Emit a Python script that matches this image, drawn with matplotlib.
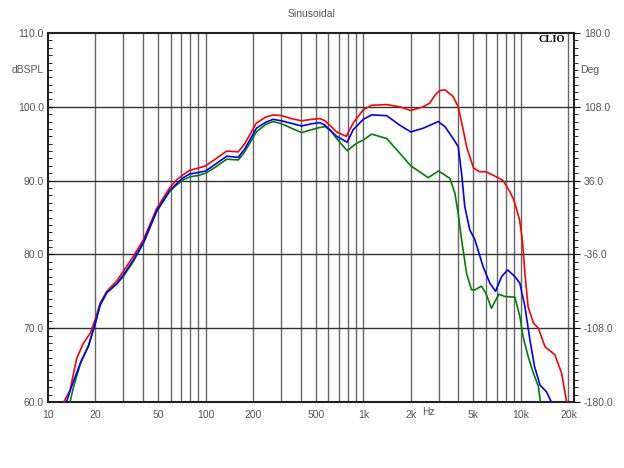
import matplotlib
matplotlib.use("Agg")
import matplotlib.pyplot as plt
from matplotlib.ticker import FixedLocator, NullLocator, MultipleLocator

# ----------------------------------------------------------------------
# Data (Hz, dBSPL)
# ----------------------------------------------------------------------
red_f = [12.0, 12.6, 13.8, 15.2, 16.7, 18.5, 20, 21.4, 23.6, 27.3, 30, 34.7,
         40.3, 48.9, 59.4, 65.5, 72, 79.4, 90, 100, 115, 136, 161, 177, 210,
         240, 268, 303, 350, 406, 470, 531, 571, 620, 677, 780, 863, 1000,
         1130, 1407, 1706, 2000, 2400, 2640, 2850, 3050, 3290, 3713, 4000,
         4300, 4520, 5000, 5480, 6000, 7000, 7710, 8500, 9000, 9800, 10200,
         10600, 11100, 12000, 12900, 14200, 16400, 18100, 19500, 19800]
red_db = [59.0, 60.0, 61.6, 65.9, 67.9, 69.3, 71.3, 73.4, 75.0, 76.4, 77.7, 79.7,
          82.0, 86.2, 89.1, 90.1, 90.8, 91.4, 91.7, 92.0, 92.9, 94.0, 93.9, 95.0, 97.8,
          98.6, 98.9, 98.8, 98.4, 98.1, 98.3, 98.4, 98.1, 97.4, 96.6, 96.0, 97.8, 99.6,
          100.2, 100.3, 100.0, 99.5, 100.0, 100.5, 101.6, 102.2, 102.3, 101.4, 100.0,
          96.9, 94.6, 91.7, 91.2, 91.2, 90.5, 90.0, 88.5, 87.4, 84.7, 82.0,
          77.4, 72.9, 70.7, 70.0, 67.5, 66.4, 63.9, 60.0, 59.0]

blue_f = [12.8, 13.1, 14.1, 16.0, 18.0, 20, 21.4, 23.6, 27.3, 30, 34.7, 40.3,
          48.9, 59.4, 65.5, 72, 79.4, 90, 100, 115, 136, 161, 177, 210, 240,
          268, 303, 406, 470, 531, 571, 677, 790, 863, 1000, 1130, 1407, 1706,
          2000, 2400, 2987, 3300, 3713, 4000, 4200, 4400, 4740, 5100, 5760,
          6350, 6900, 7540, 8230, 9150, 9840, 10600, 11400, 12200, 13200,
          14500, 15600, 16000]
blue_db = [59.0, 60.0, 62.1, 65.2, 67.5, 70.7, 73.1, 74.8, 76.0, 77.2, 79.2, 81.6,
           85.9, 88.7, 89.6, 90.4, 90.9, 91.1, 91.3, 92.2, 93.3, 93.15, 94.3, 97.1, 97.9,
           98.3, 98.1, 97.4, 97.7, 97.85, 97.5, 96.0, 95.2, 96.9, 98.3, 98.9, 98.8, 97.5,
           96.6, 97.1, 98.0, 97.3, 95.7, 94.6, 91.0, 86.5, 83.3, 82.0, 78.3,
           76.1, 75.0, 77.0, 77.9, 77.0, 76.1, 72.9, 68.4, 64.8, 62.3,
           61.4, 60.0, 59.0]

green_f = [13.3, 13.8, 14.5, 16.2, 18.2, 20, 21.4, 23.6, 27.3, 30, 34.7, 40.3,
           48.9, 59.4, 65.5, 72, 79.4, 90, 100, 115, 136, 161, 177, 210, 240,
           268, 303, 406, 470, 531, 571, 620, 677, 790, 906, 1000, 1130, 1407,
           1706, 2000, 2580, 3000, 3540, 3810, 4000, 4200, 4520, 4860, 5100,
           5620, 6000, 6500, 6830, 7240, 7900, 9150, 9840, 10300, 11100, 12000,
           12900, 13300, 13500]
green_db = [59.0, 60.0, 62.0, 65.5, 67.8, 70.9, 73.2, 74.9, 76.0, 77.0, 79.0, 81.5,
            85.8, 88.6, 89.4, 90.1, 90.5, 90.7, 91.0, 91.8, 92.9, 92.8, 93.9, 96.6, 97.6,
            98.0, 97.7, 96.5, 96.9, 97.2, 97.3, 96.8, 95.7, 94.05, 95.05, 95.5, 96.3, 95.7,
            93.7, 92.0, 90.4, 91.3, 90.3, 88.3, 85.5, 82.0, 77.4, 75.2, 75.2,
            75.7, 74.7, 72.7, 73.6, 74.6, 74.3, 74.2, 71.6, 68.9, 66.2, 63.9,
            62.1, 60.0, 59.0]

x_ticks = [10, 20, 50, 100, 200, 500, 1000, 2000, 5000, 10000, 20000]
x_labels = ["10", "20", "50", "100", "200", "500", "1k", "2k", "5k", "10k", "20k"]
db_ticks = [60, 70, 80, 90, 100, 110]
deg_ticks = [-180, -108, -36, 36, 108, 180]

# ----------------------------------------------------------------------
# Plot
# ----------------------------------------------------------------------
plt.rcParams["font.family"] = ["Liberation Sans", "DejaVu Sans"]
label_col = "#555555"

fig = plt.figure(figsize=(6.24, 4.68), dpi=100)
ax = fig.add_axes([48 / 624, 66 / 468, 526 / 624, 369 / 468])

# vertical log grid (20..90, 200..900, ...)
grid_f = [m * 10 ** d for d in range(1, 5) for m in range(1, 10)]
for f in grid_f:
    if 10 < f <= 20000:
        ax.axvline(f, color="#666666", lw=1.0, zorder=1)
for y in db_ticks[1:-1]:
    ax.axhline(y, color="#333333", lw=1.0, zorder=1)

ax.plot(red_f, red_db, color="#ff0000", lw=1.2, zorder=3)
ax.plot(green_f, green_db, color="#008000", lw=1.2, zorder=3)
ax.plot(blue_f, blue_db, color="#0000ff", lw=1.2, zorder=4)

ax.set_xscale("log")
ax.set_xlim(10, 21700)
ax.set_ylim(60, 110)

ax.xaxis.set_major_locator(FixedLocator(x_ticks))
ax.xaxis.set_minor_locator(NullLocator())
ax.set_xticklabels(x_labels)
ax.tick_params(axis="x", length=0, pad=6, labelsize=7.5, labelcolor=label_col)

ax.set_yticks(db_ticks)
ax.set_yticklabels([f"{v:.1f}" for v in db_ticks])
ax.yaxis.set_minor_locator(MultipleLocator(1))
ax.tick_params(axis="y", which="major", direction="in", length=4, width=0.8,
               pad=3, labelsize=7.5, labelcolor=label_col)
ax.tick_params(axis="y", which="minor", direction="in", length=3, width=0.6)

for s in ax.spines.values():
    s.set_linewidth(1.5)
    s.set_color("#222222")

ax2 = ax.twinx()
ax2.set_ylim(-180, 180)
ax2.set_yticks(deg_ticks)
ax2.set_yticklabels([f"{v:.1f}" for v in deg_ticks])
ax2.yaxis.set_minor_locator(MultipleLocator(7.2))
ax2.tick_params(axis="y", which="major", direction="out", length=4, width=0.8,
                pad=3, labelsize=7.5, labelcolor=label_col)
ax2.tick_params(axis="y", which="minor", direction="out", length=3, width=0.6)
for s in ax2.spines.values():
    s.set_visible(False)

fig.text(312 / 624, 1 - 14 / 468, "Sinusoidal", ha="center", va="center",
         fontsize=7.5, color=label_col)
fig.text(44 / 624, 1 - 70 / 468, "dBSPL", ha="right", va="center",
         fontsize=7.5, color=label_col)
fig.text(580 / 624, 1 - 70 / 468, "Deg", ha="left", va="center",
         fontsize=7.5, color=label_col)
fig.text(428 / 624, 1 - 412 / 468, "Hz", ha="center", va="center",
         fontsize=7.5, color=label_col)
fig.text(565 / 624, 1 - 40 / 468, "CLIO", ha="right", va="center",
         fontsize=7.5, fontweight="bold", family="Liberation Serif", color="black")

fig.savefig("out.png", dpi=100)
